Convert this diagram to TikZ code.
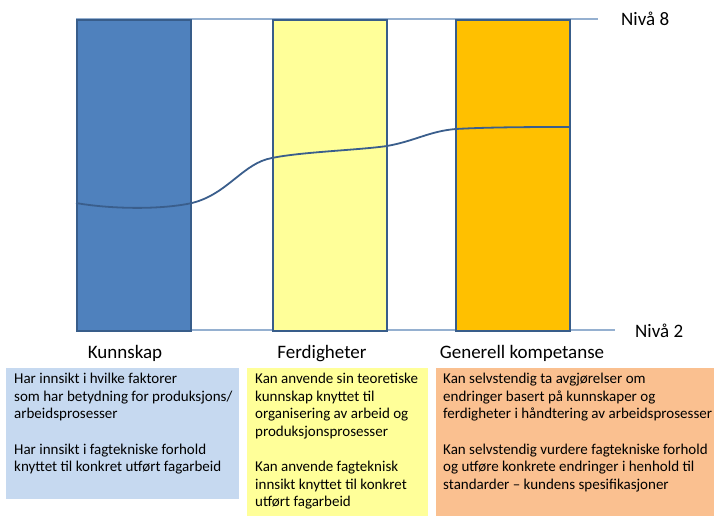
\documentclass[tikz,border=0pt]{standalone}
\usepackage{fontspec}
\setmainfont{Carlito}
\definecolor{barblue}{HTML}{4F81BD}
\definecolor{baredge}{HTML}{385D8A}
\definecolor{baryellow}{HTML}{FFFF99}
\definecolor{barorange}{HTML}{FFC000}
\definecolor{levelline}{HTML}{95B0D0}
\definecolor{curveblue}{HTML}{3A5E8C}
\definecolor{boxblue}{HTML}{C6D9F0}
\definecolor{boxyellow}{HTML}{FFFF99}
\definecolor{boxorange}{HTML}{FAC090}
\begin{document}
\begin{tikzpicture}[x=1pt,y=-1pt,
  bar/.style={draw=baredge,line width=2pt,minimum width=114pt,minimum height=311pt,inner sep=0pt,anchor=north west},
  infobox/.style={inner sep=0pt,anchor=north west},
  infotext/.style={inner sep=0pt,anchor=north west,align=left,font=\fontsize{15}{17.6}\selectfont},
  cat/.style={font=\fontsize{19}{22}\selectfont,inner sep=0pt,anchor=base},
  lvl/.style={font=\fontsize{19}{22}\selectfont,inner sep=0pt,anchor=west},
  level/.style={draw=levelline,line width=1.4pt}]
\useasboundingbox (0,0) rectangle (714,518);
% level lines
\coordinate (t0) at (76,19);
\coordinate (t1) at (598,19);
\coordinate (b0) at (76,330);
\coordinate (b1) at (615,330);
\draw[level] (t0) -- (t1);
\draw[level] (b0) -- (b1);
\node[lvl] (n8) at (621,19) {Nivå 8};
\node[lvl] (n2) at (635,331) {Nivå 2};
% bars
\node[bar,fill=barblue] (kb) at (76,19) {};
\node[bar,fill=baryellow] (fb) at (272,19) {};
\node[bar,fill=barorange] (gb) at (455,19) {};
% curve
\coordinate (c0) at (76,203);
\coordinate (c1) at (192,203);
\coordinate (c2) at (272,158);
\coordinate (c3) at (387,146);
\coordinate (c4) at (456,129);
\coordinate (c5) at (570,127);
\draw[curveblue,line width=1.8pt] (c0) .. controls (110,209) and (160,210) .. (c1)
  .. controls (228,194) and (243,163) .. (c2)
  .. controls (300,152) and (360,150) .. (c3)
  .. controls (415,141) and (430,131) .. (c4)
  .. controls (490,127) and (540,127) .. (c5);
% category labels
\node[cat] (kl) at (125,358) {Kunnskap};
\node[cat] (fl) at (322,358) {Ferdigheter};
\node[cat] (gl) at (522,358) {Generell kompetanse};
% info boxes
\node[infobox,fill=boxblue,minimum width=233pt,minimum height=131pt] (kbox) at (6,368) {};
\node[infobox,fill=boxyellow,minimum width=181pt,minimum height=148pt] (fbox) at (247,368) {};
\node[infobox,fill=boxorange,minimum width=278pt,minimum height=148pt] (gbox) at (436,368) {};
\node[infotext] (kt) at (14,373) {Har innsikt i hvilke faktorer\\som har betydning for produksjons/\\arbeidsprosesser\\[17.6pt]Har innsikt i fagtekniske forhold\\knyttet til  konkret utført fagarbeid};
\node[infotext] (ft) at (255,373) {Kan anvende sin teoretiske\\kunnskap knyttet til\\organisering av arbeid og\\produksjonsprosesser\\[17.6pt]Kan anvende fagteknisk\\innsikt knyttet til  konkret\\utført fagarbeid};
\node[infotext] (gt) at (443,373) {Kan selvstendig ta  avgjørelser om\\endringer basert på kunnskaper og\\ferdigheter i håndtering av arbeidsprosesser\\[17.6pt]Kan selvstendig vurdere fagtekniske forhold\\og utføre konkrete endringer i  henhold til\\standarder – kundens spesifikasjoner};
\end{tikzpicture}
\end{document}
